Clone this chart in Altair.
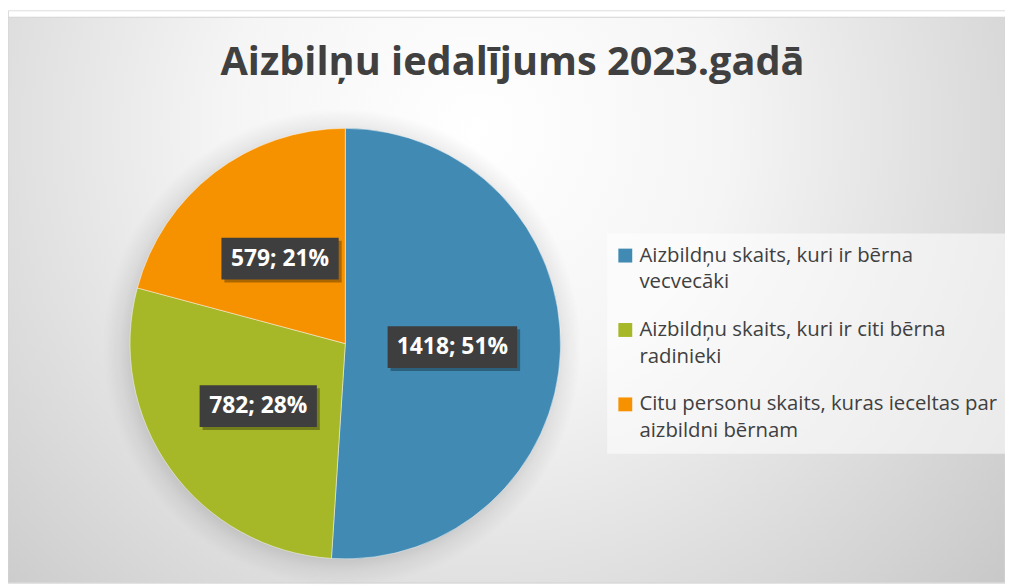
import altair as alt
import pandas as pd

# ---- data ----
categories = [
    "Aizbildņu skaits, kuri ir bērna vecvecāki",
    "Aizbildņu skaits, kuri ir citi bērna radinieki",
    "Citu personu skaits, kuras ieceltas par aizbildni bērnam",
]
values = [1418, 782, 579]
percents = [51, 28, 21]
colors = ["#418AB3", "#A6B727", "#F69200"]
legend_lines = [
    ["Aizbildņu skaits, kuri ir bērna", "vecvecāki"],
    ["Aizbildņu skaits, kuri ir citi bērna", "radinieki"],
    ["Citu personu skaits, kuras ieceltas par", "aizbildni bērnam"],
]
title_text = "Aizbilņu iedalījums 2023.gadā"

FONT = "Open Sans"

# ---- layout (pixels) ----
W, H = 1005, 577
CX, CY, R = 340, 336, 217
LABEL_R = 108

df = pd.DataFrame({
    "cat": categories,
    "value": values,
    "pct": percents,
    "order": list(range(len(categories))),
})
df["label"] = [f"{v}; {p}%" for v, p in zip(values, percents)]

label_expr = ""
for c, lines in zip(categories[:-1], legend_lines[:-1]):
    arr = "[" + ",".join(f"'{l}'" for l in lines) + "]"
    label_expr += f"datum.label == '{c}' ? {arr} : "
label_expr += "[" + ",".join(f"'{l}'" for l in legend_lines[-1]) + "]"

one = pd.DataFrame({"k": [0]})

bg = alt.Chart(one).mark_rect(
    fill={
        "gradient": "radial",
        "x1": 0.47, "y1": 0.33, "r1": 0,
        "x2": 0.47, "y2": 0.33, "r2": 0.72,
        "stops": [
            {"offset": 0.0, "color": "#ffffff"},
            {"offset": 0.35, "color": "#f5f5f5"},
            {"offset": 1.0, "color": "#c6c6c6"},
        ],
    },
    stroke="#d4d4d4", strokeWidth=1,
).encode(x=alt.value(0), x2=alt.value(W), y=alt.value(7), y2=alt.value(H))

shadow = alt.Chart(one).mark_arc(
    theta=0, theta2=6.2832, radius=R + 24,
    fill={
        "gradient": "radial",
        "x1": 0.5, "y1": 0.5, "r1": 0,
        "x2": 0.5, "y2": 0.5, "r2": 0.5,
        "stops": [
            {"offset": 0.0, "color": "rgba(0,0,0,0.16)"},
            {"offset": 0.87, "color": "rgba(0,0,0,0.14)"},
            {"offset": 0.93, "color": "rgba(0,0,0,0.06)"},
            {"offset": 1.0, "color": "rgba(0,0,0,0)"},
        ],
    },
).encode(x=alt.value(CX - 3), y=alt.value(CY + 4))

legend_box = alt.Chart(one).mark_rect(fill="#ffffff", opacity=0.55).encode(
    x=alt.value(604), x2=alt.value(W), y=alt.value(225), y2=alt.value(447)
)

base = alt.Chart(df)

pie = base.mark_arc(radius=R, stroke="#ffffff", strokeWidth=0.8, strokeOpacity=0.6).encode(
    theta=alt.Theta("value:Q", stack=True),
    color=alt.Color(
        "cat:N",
        sort=categories,
        scale=alt.Scale(domain=categories, range=colors),
        legend=alt.Legend(
            orient="none", legendX=612, legendY=237, title=None,
            symbolType="square", symbolSize=196, symbolStrokeWidth=0,
            symbolOpacity=1,
            labelFont=FONT, labelFontSize=20.5, labelColor="#404040",
            labelExpr=label_expr, labelLimit=600, labelOffset=4,
            rowPadding=27, padding=0,
        ),
    ),
    order=alt.Order("order:Q"),
    x=alt.value(CX),
    y=alt.value(CY),
)

geo = base.transform_joinaggregate(total="sum(value)").transform_window(
    cum="sum(value)", sort=[alt.SortField("order")], frame=[None, 0]
).transform_calculate(
    mid="(datum.cum - datum.value / 2) / datum.total * 2 * PI"
).transform_calculate(
    px=f"{CX} + {LABEL_R} * sin(datum.mid)",
    py=f"{CY} - {LABEL_R} * cos(datum.mid)",
).transform_calculate(
    hw="(length(datum.label) * 12.4 + 19) / 2"
).transform_calculate(
    x1="datum.px - datum.hw", x2="datum.px + datum.hw",
    y1="datum.py - 21", y2="datum.py + 21",
)

box_shadow = geo.mark_rect(color="#000000", opacity=0.3, xOffset=3, yOffset=3, x2Offset=3, y2Offset=3).encode(
    x=alt.X("x1:Q", scale=None, axis=None), x2="x2:Q",
    y=alt.Y("y1:Q", scale=None, axis=None), y2="y2:Q",
)
box = geo.mark_rect(color="#3e3e3e", opacity=1).encode(
    x=alt.X("x1:Q", scale=None, axis=None), x2="x2:Q",
    y=alt.Y("y1:Q", scale=None, axis=None), y2="y2:Q",
)
text = geo.mark_text(
    font=FONT, fontWeight="bold", fontSize=23, color="#ffffff",
    align="center", baseline="middle",
).encode(
    x=alt.X("px:Q", scale=None, axis=None),
    y=alt.Y("py:Q", scale=None, axis=None),
    text="label:N",
)

chart = alt.layer(bg, shadow, legend_box, pie, box_shadow, box, text).properties(
    width=W, height=H,
    autosize=alt.AutoSizeParams(type="none"),
    padding=0,
    background="#ffffff",
    title=alt.TitleParams(
        title_text, font=FONT, fontSize=40, fontWeight="bold", color="#404040",
        anchor="middle", frame="group", baseline="alphabetic", offset=0, dy=105, dx=6,
    ),
).configure_view(strokeWidth=0).configure(
    style={"guide-label": {"lineHeight": 27}}
)

chart.save("out.html", embed_options={"renderer": "svg", "actions": False})
